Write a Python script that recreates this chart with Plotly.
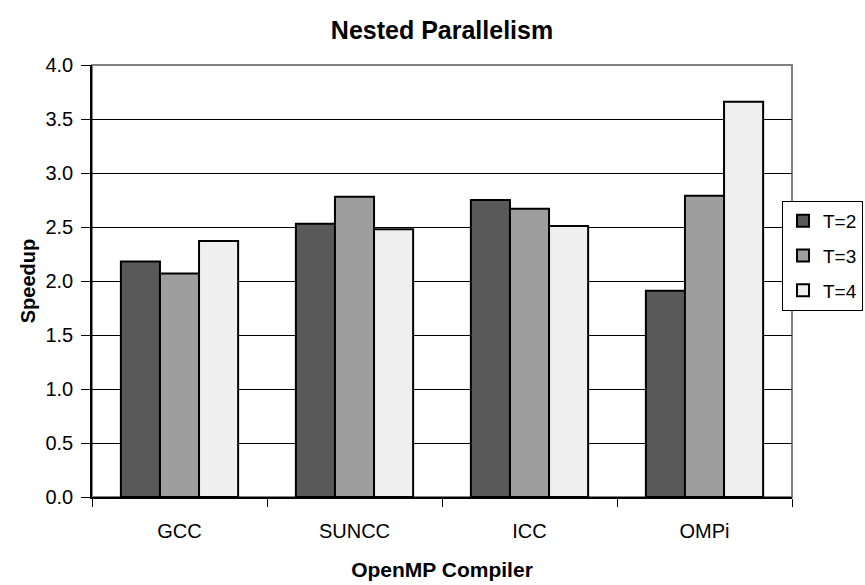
import plotly.graph_objects as go

compilers = ["GCC", "SUNCC", "ICC", "OMPi"]
t2 = [2.18, 2.53, 2.75, 1.91]
t3 = [2.07, 2.78, 2.67, 2.79]
t4 = [2.37, 2.48, 2.51, 3.66]
series_names = ["T=2", "T=3", "T=4"]
colors = ["#595959", "#9e9e9e", "#efefef"]

font = "Liberation Sans, Arial, sans-serif"

fig = go.Figure()
for i, (name, vals, col) in enumerate(zip(series_names, [t2, t3, t4], colors)):
    fig.add_trace(go.Bar(
        x=compilers, y=vals, name=name, legendgroup=name,
        marker=dict(color=col, line=dict(color="black", width=2)),
    ))

fig.update_layout(
    width=865, height=585,
    margin=dict(l=92, r=73, t=65, b=88, autoexpand=False),
    paper_bgcolor="white", plot_bgcolor="white",
    barmode="group", bargap=0.33, bargroupgap=0,
    title=dict(text="<b>Nested Parallelism</b>", x=(92 + 350) / 865, xanchor="center",
               y=1 - 30 / 585, yanchor="middle",
               font=dict(family=font, size=25, color="black")),
    font=dict(family=font, size=20, color="black"),
    showlegend=True,
    legend=dict(x=(782 - 92) / 700, y=(497 - 201) / 432, xanchor="left", yanchor="top",
                bordercolor="black", borderwidth=1, bgcolor="white",
                font=dict(family=font, size=19, color="black"),
                tracegroupgap=7, itemwidth=30),
    xaxis=dict(
        title=dict(text="<b>OpenMP Compiler</b>", font=dict(family=font, size=21), standoff=22),
        showline=True, linecolor="black", linewidth=1.5,
        ticks="outside", ticklen=8, tickcolor="black", tickson="boundaries",
        ticklabelstandoff=15,
        tickfont=dict(family=font, size=20), showgrid=False,
    ),
    yaxis=dict(
        title=dict(text="<b>Speedup</b>", font=dict(family=font, size=20), standoff=4),
        range=[0, 4.0], dtick=0.5, tickformat=".1f",
        showline=True, linecolor="black", linewidth=1.5,
        ticks="outside", ticklen=9, tickcolor="black",
        ticklabelstandoff=4,
        showgrid=True, gridcolor="black", gridwidth=1,
        tickfont=dict(family=font, size=20), zeroline=False,
    ),
    shapes=[dict(type="rect", xref="paper", yref="paper", x0=0, y0=0, x1=1, y1=1,
                 line=dict(color="#808080", width=2), layer="below")],
)

fig.write_html("out.html")
